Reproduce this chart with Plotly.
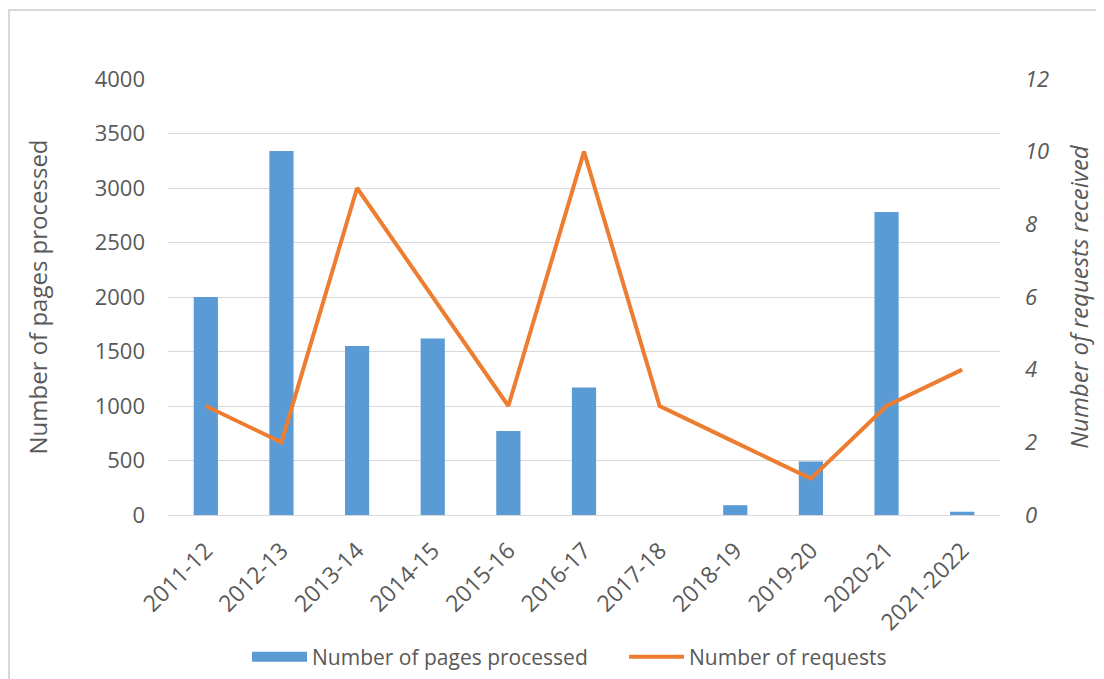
import plotly.graph_objects as go

categories = ["2011-12", "2012-13", "2013-14", "2014-15", "2015-16", "2016-17",
              "2017-18", "2018-19", "2019-20", "2020-21", "2021-2022"]
pages_processed = [2000, 3340, 1550, 1620, 770, 1170, 0, 90, 490, 2780, 30]
requests_received = [3, 2, 9, 6, 3, 10, 3, 2, 1, 3, 4]

FONT = "Open Sans"
GRAY = "#595959"
BLUE = "#5B9BD5"
ORANGE = "#ED7D31"

W, H = 1096, 671
L, R, T, B = 160, 104, 71, 164
PW, PH = W - L - R, H - T - B

fig = go.Figure()
fig.add_trace(go.Bar(
    x=categories, y=pages_processed, name="Number of pages processed",
    marker=dict(color=BLUE, line=dict(width=0)), yaxis="y", showlegend=False,
    legendgroup="pages",
))
# legend proxy with a wide block symbol (as in the reference legend)
fig.add_trace(go.Scatter(
    x=[None], y=[None], name="Number of pages processed", mode="lines",
    line=dict(color=BLUE, width=14), legendgroup="pages", hoverinfo="skip",
))
fig.add_trace(go.Scatter(
    x=categories, y=requests_received, name="Number of requests",
    mode="lines", line=dict(color=ORANGE, width=4), yaxis="y2",
))

fig.update_layout(
    width=W, height=H,
    margin=dict(l=L, r=R, t=T, b=B, autoexpand=False),
    paper_bgcolor="white", plot_bgcolor="white",
    font=dict(family=FONT, color=GRAY, size=22),
    bargap=0.68,
    showlegend=True,
    legend=dict(orientation="h", x=0.095, xanchor="left", y=-0.326, yanchor="middle",
                font=dict(size=21, color=GRAY), itemwidth=55, traceorder="normal",
                entrywidth=307),
    xaxis=dict(type="category", automargin=False, showgrid=False, showline=True,
               linecolor="#d9d9d9", linewidth=1, ticklabelstandoff=12,
               tickangle=-45, ticks="", tickfont=dict(size=23, color=GRAY)),
    yaxis=dict(range=[0, 4000], dtick=500, automargin=False, showgrid=True,
               gridcolor="#d9d9d9", gridwidth=1, zeroline=False, showline=False,
               ticks="", ticklabelstandoff=22, tickfont=dict(size=22, color=GRAY),
               title=dict(text="Number of pages processed", standoff=40,
                          font=dict(size=24, color=GRAY))),
    yaxis2=dict(range=[0, 12], dtick=2, overlaying="y", side="right", automargin=False,
                showgrid=False, zeroline=False, showline=False, ticks="",
                ticklabelstandoff=24,
                tickfont=dict(size=22, color=GRAY, style="italic"),
                title=dict(text="Number of requests received", standoff=22,
                           font=dict(size=24, color=GRAY, style="italic"))),
    shapes=[dict(type="rect", xref="paper", yref="paper",
                 x0=(1 - L) / PW, x1=(W + 10 - L) / PW,
                 y0=-(H + 10 - T - PH) / PH, y1=(T + PH - 2) / PH,
                 line=dict(color="#d9d9d9", width=2), layer="below")],
)

fig.write_html("out.html")
